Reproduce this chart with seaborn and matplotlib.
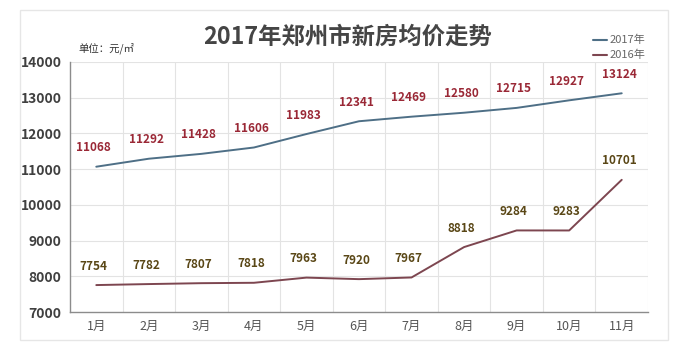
import matplotlib
matplotlib.use("Agg")
import matplotlib.pyplot as plt
import seaborn as sns
import pandas as pd
from matplotlib.patches import Rectangle

months = ["1月", "2月", "3月", "4月", "5月", "6月", "7月", "8月", "9月", "10月", "11月"]
values_2017 = [11068, 11292, 11428, 11606, 11983, 12341, 12469, 12580, 12715, 12927, 13124]
values_2016 = [7754, 7782, 7807, 7818, 7963, 7920, 7967, 8818, 9284, 9283, 10701]
series_names = ["2017年", "2016年"]
y_ticks = [7000, 8000, 9000, 10000, 11000, 12000, 13000, 14000]

sns.set_theme(style="white")
plt.rcParams['font.family'] = ['Noto Sans CJK SC', 'DejaVu Sans']

df = pd.DataFrame({
    "month": months * 2,
    "x": list(range(len(months))) * 2,
    "value": values_2017 + values_2016,
    "series": [series_names[0]] * len(months) + [series_names[1]] * len(months),
})

line_colors = {"2017年": "#4e6f86", "2016年": "#7d4650"}
label_colors = {"2017年": "#9a2836", "2016年": "#5a4716"}

fig = plt.figure(figsize=(6.9, 3.51), dpi=100)
fig.patch.set_facecolor("white")
# outer frame
fig.add_artist(Rectangle((20 / 690, 1 - 340 / 351), 648 / 690, 330 / 351,
                         transform=fig.transFigure, fill=False, edgecolor="#e6e6e6", lw=1))

ax = fig.add_axes([70 / 690, 1 - 312 / 351, 578 / 690, 250 / 351])
sns.lineplot(data=df, x="x", y="value", hue="series", palette=line_colors,
             linewidth=1.4, ax=ax, legend=False)

ax.set_xlim(-0.5, len(months) - 0.5)
ax.set_ylim(7000, 14000)
ax.set_yticks(y_ticks)
ax.set_yticklabels([str(v) for v in y_ticks], fontsize=10, fontweight="bold", color="#404040")
ax.set_xticks(range(len(months)))
ax.set_xticklabels(months, fontsize=9, color="#555555")
ax.set_xlabel("")
ax.set_ylabel("")
ax.tick_params(axis="both", length=0, pad=6)

for v in y_ticks[1:]:
    ax.axhline(v, color="#e3e3e3", lw=0.8, zorder=0)
for k in range(1, len(months) + 1):
    ax.axvline(k - 0.5, color="#e3e3e3", lw=0.8, zorder=0)

for side in ["top", "right"]:
    ax.spines[side].set_visible(False)
for side in ["left", "bottom"]:
    ax.spines[side].set_color("#8c8c8c")
    ax.spines[side].set_linewidth(1.0)

for name, vals in zip(series_names, [values_2017, values_2016]):
    for i, v in enumerate(vals):
        ax.annotate(str(v), (i, v), xytext=(-2, 9), textcoords="offset points",
                    ha="center", va="bottom", fontsize=8.5, fontweight="bold",
                    color=label_colors[name])

fig.text(348 / 690, 1 - 37 / 351, "2017年郑州市新房均价走势", ha="center", va="center",
         fontsize=16.8, fontweight="bold", color="#454545")
fig.text(78 / 690, 1 - 48 / 351, "单位：元/㎡", ha="left", va="center",
         fontsize=7.5, color="#333333")

# legend
for j, name in enumerate(series_names):
    yy = 1 - (40 + 15 * j) / 351
    fig.add_artist(plt.Line2D([593 / 690, 607 / 690], [yy, yy], transform=fig.transFigure,
                              color=line_colors[name], lw=1.5))
    fig.text(610 / 690, yy, name, ha="left", va="center", fontsize=8, color="#666666")

fig.savefig("out.png", dpi=100, facecolor="white")
